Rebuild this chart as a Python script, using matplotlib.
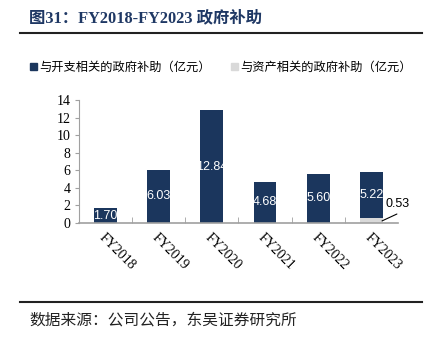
import numpy as np
import matplotlib
matplotlib.use("Agg")
import matplotlib.pyplot as plt
from matplotlib.lines import Line2D
from matplotlib.patches import Patch

# data
years = ["FY2018", "FY2019", "FY2020", "FY2021", "FY2022", "FY2023"]
spend_subsidy = [1.70, 6.03, 12.84, 4.68, 5.60, 5.22]   # 与开支相关
asset_subsidy = [0.00, 0.00, 0.00, 0.00, 0.00, 0.53]    # 与资产相关

navy = "#1B365D"
grey = "#D9D9D9"
cjk = ["Noto Sans CJK SC", "DejaVu Sans"]
serif = ["Liberation Serif", "Noto Sans CJK SC"]

fig = plt.figure(figsize=(4.33, 3.42), dpi=100)
ax = fig.add_axes([0.1824, 0.348, 0.7367, 0.3596])

x = np.arange(len(years))
w = 0.43
ax.bar(x, asset_subsidy, w, color=grey, zorder=2)
ax.bar(x, spend_subsidy, w, bottom=asset_subsidy, color=navy, zorder=2)

# labels inside the dark bars
for i in range(len(years)):
    yc = asset_subsidy[i] + spend_subsidy[i] / 2
    ax.text(x[i], yc, f"{spend_subsidy[i]:.2f}", color="white", ha="center",
            va="center", fontsize=9, family="Liberation Sans", zorder=3)

# outside label for the small grey segment, with a leader line
last = len(years) - 1
ax.text(x[last] + 0.27, 2.15, f"{asset_subsidy[last]:.2f}", fontsize=9,
        family="Liberation Sans", ha="left", va="center")
ax.annotate("", xy=(x[last] + 0.2, asset_subsidy[last] / 2 - 0.03),
            xytext=(x[last] + 0.48, 1.02),
            arrowprops=dict(arrowstyle="-", color="black", lw=0.8,
                            shrinkA=0, shrinkB=0))

ax.set_xlim(-0.5, len(years) - 0.5)
ax.set_ylim(0, 14)
ax.set_yticks(range(0, 15, 2))
for lab in ax.get_yticklabels():
    lab.set_family("Liberation Serif")
    lab.set_fontsize(10)

ax.set_xticks(x)
ax.set_xticklabels(years, rotation=-45, ha="left", rotation_mode="anchor",
                   family="Liberation Serif", fontsize=10)
ax.tick_params(axis="x", length=0, pad=6)
ax.tick_params(axis="y", length=3, color="#A0A0A0", pad=3)

# category boundary ticks pointing inward
ax.set_xticks(np.arange(0.5, len(years) - 0.5, 1), minor=True)
ax.tick_params(axis="x", which="minor", direction="in", length=4, color="#A0A0A0")

for s in ["top", "right"]:
    ax.spines[s].set_visible(False)
ax.spines["left"].set_color("#A0A0A0")
ax.spines["bottom"].set_color("#A0A0A0")
ax.spines["bottom"].set_linewidth(1.2)

# legend
handles = [Patch(color=navy), Patch(color=grey)]
labels = ["与开支相关的政府补助（亿元）", "与资产相关的政府补助（亿元）"]
fig.legend(handles, labels, loc="center", bbox_to_anchor=(0.51, 0.803), ncol=2,
           frameon=False, prop={"family": cjk, "size": 8.8},
           handlelength=0.6, handleheight=0.6, handletextpad=0.2, columnspacing=1.6)

# title, rules, source
fig.text(0.067, 0.947, "图31：FY2018-FY2023 政府补助", family=serif, weight="bold",
         fontsize=11.8, color="#1F3864", va="center", ha="left")
fig.add_artist(Line2D([0.046, 0.975], [0.903, 0.903], color="#222222", lw=1.5))
fig.add_artist(Line2D([0.046, 0.975], [0.117, 0.117], color="#222222", lw=1.5))
fig.text(0.069, 0.063, "数据来源：公司公告，东吴证券研究所", family=cjk,
         fontsize=11.3, color="#222222", va="center", ha="left")

fig.savefig("out.png", dpi=100)
